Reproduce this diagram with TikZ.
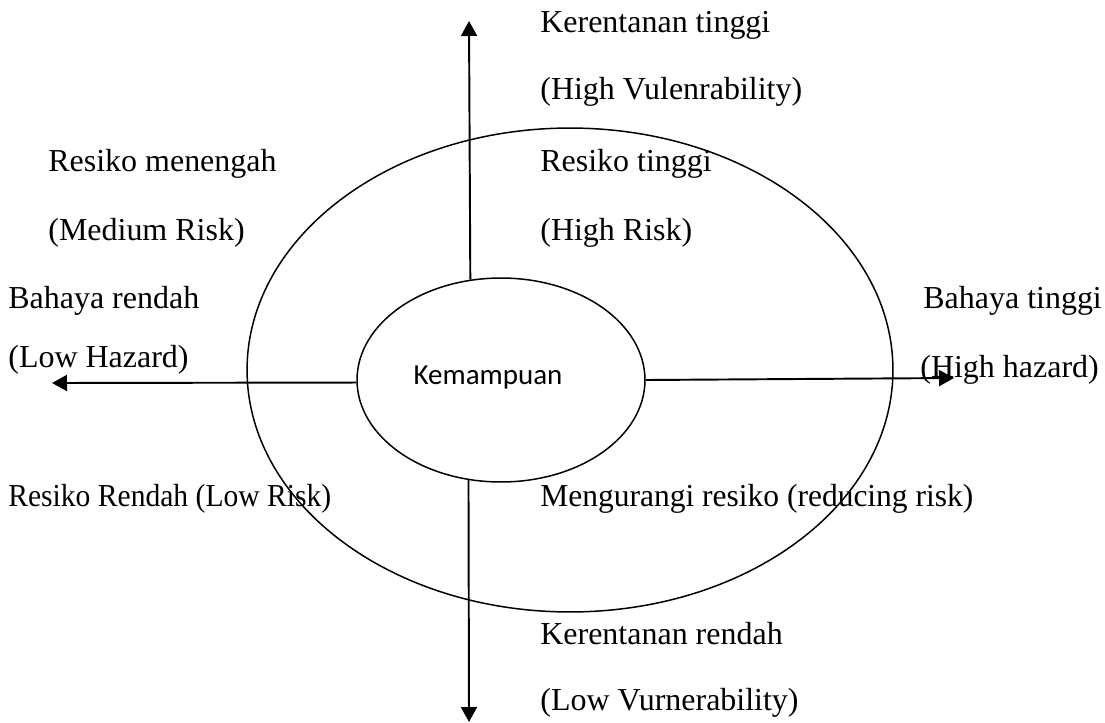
\documentclass[tikz,border=0pt]{standalone}
\usepackage{fontspec}
\setmainfont{Liberation Serif}
\newfontfamily\calibri{Carlito}
\usetikzlibrary{arrows.meta,shapes.geometric}

\begin{document}
\begin{tikzpicture}[>={Triangle[length=0.3cm,width=0.32cm]},x=0.02cm,y=-0.02cm]
  \tikzstyle{lbl}=[anchor=base west,inner sep=0pt,font=\fontsize{18.2}{20}\selectfont]
  \tikzstyle{oval}=[draw,ellipse,line width=0.85pt,inner sep=0pt]
  \tikzstyle{axis}=[line width=1.1pt,->]
  \useasboundingbox (0,0) rectangle (1105,723);
  \node[oval,minimum width=12.92cm,minimum height=9.68cm] (luar) at (570,370) {};
  \node[oval,fill=white,minimum width=5.76cm,minimum height=4.08cm,font=\calibri\fontsize{16.5}{18}\selectfont] (kemampuan) at (501,380) {\raisebox{0.2cm}{Kemampuan}\kern0.52cm};
  \coordinate (atas) at (469,21);
  \coordinate (bawah) at (469,722);
  \coordinate (kiri) at (52,383);
  \coordinate (kanan) at (954,378);
  \draw[axis] (kemampuan.107.6) -- (atas);
  \draw[axis] (kemampuan.252.4) -- (bawah);
  \draw[axis] (kemampuan.181.2) -- (kiri);
  \draw[axis] (kemampuan.0.8) -- (kanan);
  \node[lbl] (ktinggi) at (540,33) {Kerentanan tinggi};
  \node[lbl] (ktinggien) at (540,100) {(High Vulenrability)};
  \node[lbl] (rmenengah) at (48,172) {Resiko menengah};
  \node[lbl] (rmenengahen) at (48,240) {(Medium Risk)};
  \node[lbl] (rtinggi) at (540,172) {Resiko tinggi};
  \node[lbl] (rtinggien) at (540,240) {(High Risk)};
  \node[lbl] (brendah) at (8,308) {Bahaya rendah};
  \node[lbl] (brendahen) at (8,367) {(Low Hazard)};
  \node[lbl] (btinggi) at (923,308) {Bahaya tinggi};
  \node[lbl] (btinggien) at (920,377) {(High hazard)};
  \node[lbl] (rrendah) at (8,506) {\scalebox{0.925}[1]{Resiko Rendah (Low Risk)}};
  \node[lbl] (mengurangi) at (540,506) {\scalebox{0.985}[1]{Mengurangi resiko (reducing risk)}};
  \node[lbl] (krendah) at (540,644) {Kerentanan rendah};
  \node[lbl] (krendahen) at (540,710) {(Low Vurnerability)};
\end{tikzpicture}
\end{document}
